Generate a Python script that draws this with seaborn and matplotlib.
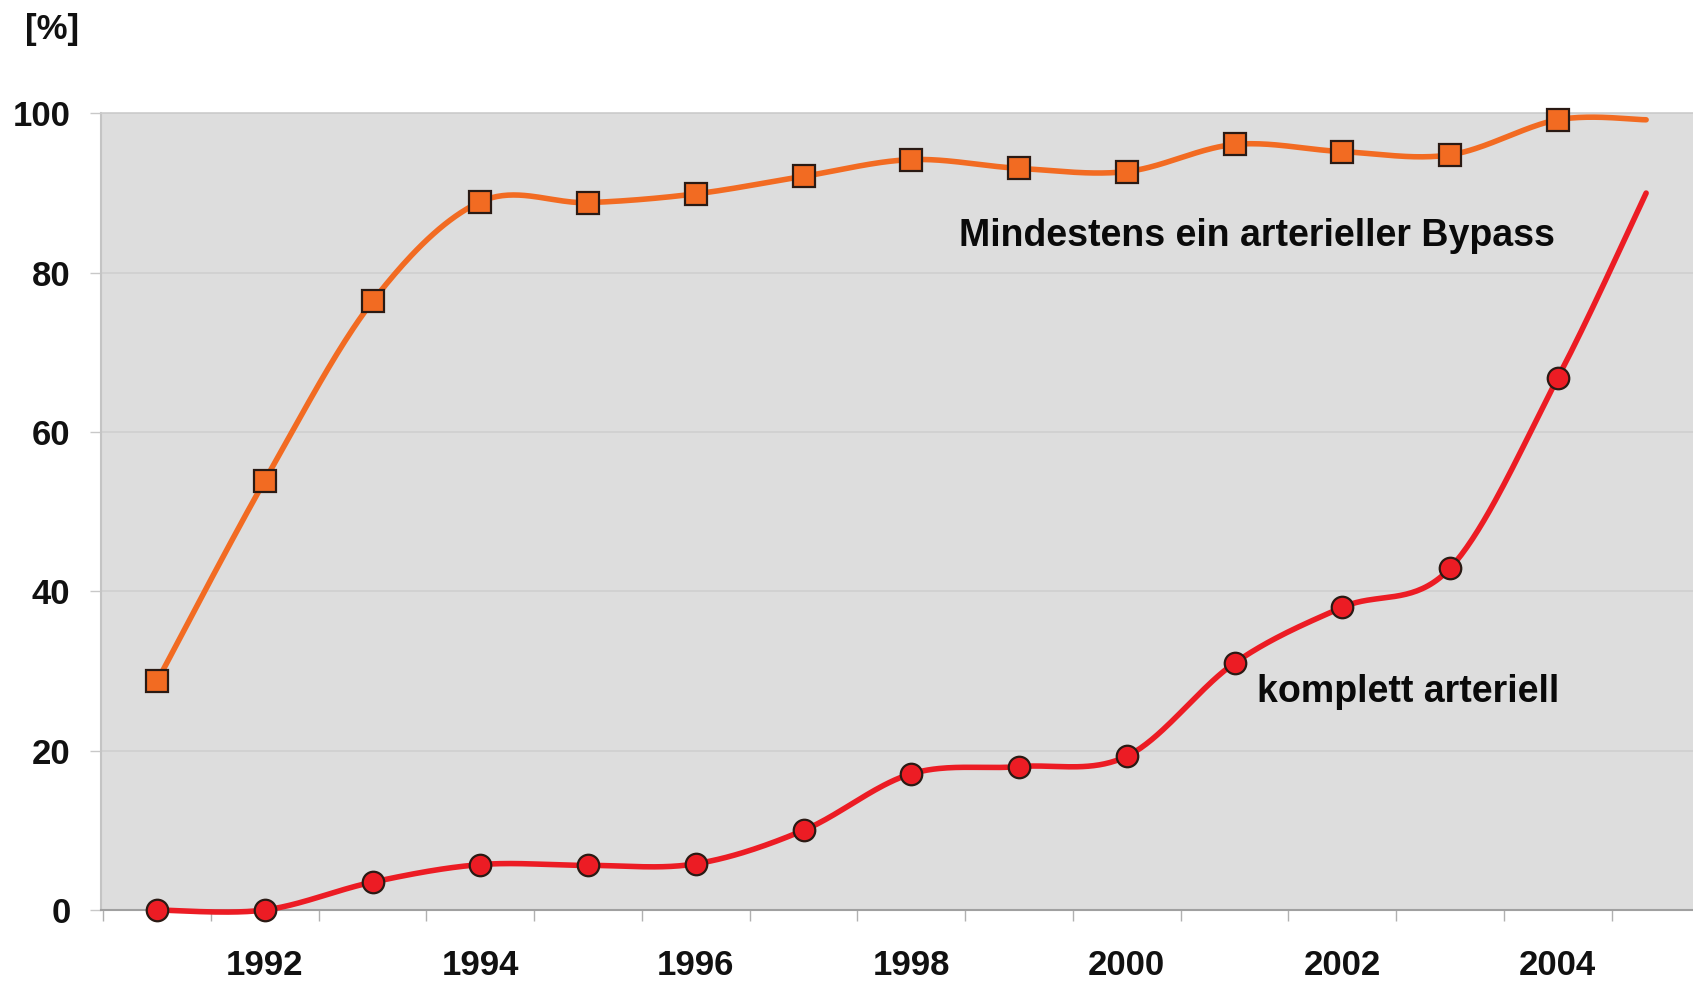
import numpy as np
import seaborn as sns
import matplotlib.pyplot as plt

# Daten
years = [1991, 1992, 1993, 1994, 1995, 1996, 1997, 1998, 1999, 2000, 2001, 2002, 2003, 2004]
bypass = [28.7, 53.9, 76.4, 88.9, 88.8, 89.9, 92.1, 94.2, 93.1, 92.7, 96.1, 95.2, 94.8, 99.2]
komplett = [0.0, 0.0, 3.5, 5.7, 5.6, 5.8, 10.0, 17.1, 18.0, 19.3, 31.0, 38.0, 42.9, 66.8]
# Linien laufen über den letzten Marker hinaus
end_year = 2004.82
bypass_end = 99.2
komplett_end = 90.0

year_labels = ["1992", "1994", "1996", "1998", "2000", "2002", "2004"]
y_ticks = [0, 20, 40, 60, 80, 100]

ORANGE = "#F26B22"
RED = "#EC1C24"


def smooth(x, y, n=40):
    # geglättete Linie wie in Excel (Catmull-Rom / Bezier)
    x = np.asarray(x, float)
    y = np.asarray(y, float)
    px = np.concatenate([[x[0]], x, [x[-1]]])
    py = np.concatenate([[y[0]], y, [y[-1]]])
    t = np.linspace(0, 1, n)
    xs, ys = [], []
    for i in range(len(x) - 1):
        p0 = np.array([px[i], py[i]])
        p1 = np.array([px[i + 1], py[i + 1]])
        p2 = np.array([px[i + 2], py[i + 2]])
        p3 = np.array([px[i + 3], py[i + 3]])
        c1 = p1 + (p2 - p0) / 6
        c2 = p2 - (p3 - p1) / 6
        b = ((1 - t) ** 3)[:, None] * p1 + (3 * (1 - t) ** 2 * t)[:, None] * c1 \
            + (3 * (1 - t) * t ** 2)[:, None] * c2 + (t ** 3)[:, None] * p2
        xs.extend(b[:, 0])
        ys.extend(b[:, 1])
    return np.array(xs), np.array(ys)


sns.set_style("white")
plt.rcParams["font.family"] = ["Liberation Sans", "DejaVu Sans"]
plt.rcParams["font.weight"] = "bold"

fig = plt.figure(figsize=(16.93, 9.85), dpi=100)
ax = fig.add_axes([101 / 1693, 75 / 985, (1693 - 101) / 1693, 796.6 / 985])
ax.set_facecolor("#dddddd")

for name, vals, end, col, mk, ms in [
    ("bypass", bypass, bypass_end, ORANGE, "s", 16.5),
    ("komplett", komplett, komplett_end, RED, "o", 15.5),
]:
    sx, sy = smooth(years + [end_year], vals + [end])
    sns.lineplot(x=sx, y=sy, ax=ax, color=col, linewidth=4.0, sort=False,
                 estimator=None, zorder=3, clip_on=False)
    ax.plot(years, vals, linestyle="none", marker=mk, markersize=ms,
            markerfacecolor=col, markeredgecolor="#2a1a14", markeredgewidth=1.6,
            zorder=4, clip_on=False)

ax.set_xlim(1990.48, 2005.255)
ax.set_ylim(0, 100)

# Gitter
ax.set_yticks(y_ticks)
ax.yaxis.grid(True, color="#cfcfcf", linewidth=1.2)
ax.set_axisbelow(True)
ax.tick_params(axis="y", left=True, length=8, width=1, color="#c8c8c8", pad=14,
               labelsize=25, labelcolor="#111111")
ax.set_yticklabels([str(v) for v in y_ticks], fontweight="bold")

ax.set_xticks([int(v) for v in year_labels])
ax.set_xticklabels(year_labels, fontweight="bold")
ax.set_xticks(np.arange(1990.5, 2005, 1.0), minor=True)
ax.tick_params(axis="x", which="major", length=0, pad=28, labelsize=25,
               labelcolor="#111111")
ax.tick_params(axis="x", which="minor", bottom=True, length=8, width=1, color="#b0b0b0")

ax.spines["right"].set_visible(False)
ax.spines["bottom"].set_color("#a0a0a0")
ax.spines["bottom"].set_linewidth(1.5)
ax.spines["left"].set_color("#c4c4c4")
ax.spines["left"].set_linewidth(1.5)
ax.spines["top"].set_color("#cccccc")
ax.spines["top"].set_linewidth(1.2)

ax.set_xlabel("")
ax.set_ylabel("")

ax.text(1998.44, 83.3, "Mindestens ein arterieller Bypass", fontsize=27,
        fontweight="bold", color="#0a0a0a", va="baseline", ha="left")
ax.text(2001.21, 26.1, "komplett arteriell", fontsize=27,
        fontweight="bold", color="#0a0a0a", va="baseline", ha="left")

fig.text(52 / 1693, 1 - 30 / 985, "[%]", fontsize=25, fontweight="bold",
         ha="center", va="center", color="#111111")

fig.savefig("out.png", dpi=100)
